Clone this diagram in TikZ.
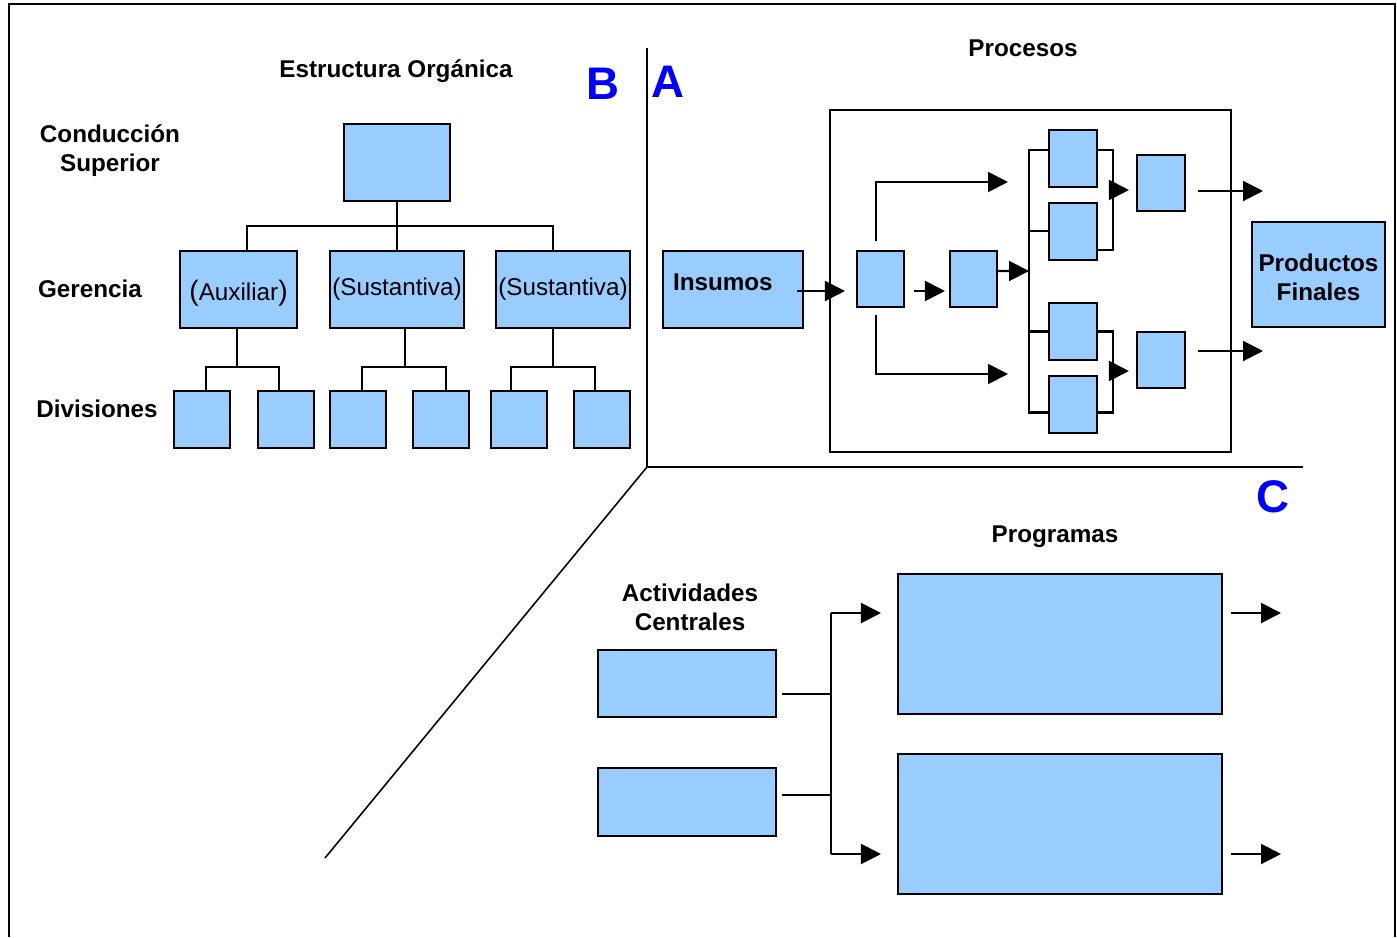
\documentclass[tikz,border=0pt]{standalone}
\usepackage{fontspec}
\setmainfont{Liberation Sans}
\usetikzlibrary{arrows.meta,calc}
\definecolor{celeste}{RGB}{153,204,255}
\definecolor{azul}{RGB}{0,0,255}

\begin{document}
\begin{tikzpicture}[x=0.02cm,y=-0.02cm,
		>={Triangle[length=0.4cm,width=0.4cm]},
		caja/.style={draw,fill=celeste,line width=1.2pt,inner sep=0pt},
		linea/.style={line width=1.15pt},
		flecha/.style={->,line width=1.15pt},
		rotulo/.style={font=\fontsize{13.8}{16.6}\selectfont\bfseries,align=center},
		texto/.style={font=\fontsize{13.8}{16.6}\selectfont},
		letra/.style={font=\fontsize{26}{30}\selectfont\bfseries,text=azul}]
			\useasboundingbox (0,0) rectangle (1397,937);
			\draw[linea] (9,937) -- (9,4) -- (1395,4) -- (1395,937);
			% ejes
			\draw[linea] (647,48) -- (647,467) -- (1303,467);
			\draw[line width=0.9pt] (647,467) -- (325,858);
			\node[letra] (lb) at (603,84) {B};
			\node[letra] (la) at (668,82) {A};
			\node[letra] (lc) at (1273,497) {C};
			% B: estructura organica
			\node[rotulo] (tit1) at (396,71) {Estructura Orgánica};
			\node[rotulo] (niv1) at (110,151) {Conducción\\Superior};
			\node[rotulo] (niv2) at (90,289) {Gerencia};
			\node[rotulo] (niv3) at (97,409) {Divisiones};
			\node[caja,minimum width=2.12cm,minimum height=1.54cm] (sup) at (397,162.5) {};
			\node[caja,texto,minimum width=2.34cm,minimum height=1.54cm] (aux) at (238.5,289.5) {\raisebox{-0.08cm}[\height][\depth]{{\fontsize{16}{16}\selectfont(}Auxiliar{\fontsize{16}{16}\selectfont)}}};
			\node[caja,texto,minimum width=2.68cm,minimum height=1.54cm] (sus1) at (397,289.5) {(Sustantiva)};
			\node[caja,texto,minimum width=2.68cm,minimum height=1.54cm] (sus2) at (563,289.5) {(Sustantiva)};
			\node[caja,minimum width=1.12cm,minimum height=1.14cm] (d1) at (202,419.5) {};
			\node[caja,minimum width=1.12cm,minimum height=1.14cm] (d2) at (286,419.5) {};
			\node[caja,minimum width=1.12cm,minimum height=1.14cm] (d3) at (358,419.5) {};
			\node[caja,minimum width=1.12cm,minimum height=1.14cm] (d4) at (441,419.5) {};
			\node[caja,minimum width=1.12cm,minimum height=1.14cm] (d5) at (519,419.5) {};
			\node[caja,minimum width=1.12cm,minimum height=1.14cm] (d6) at (602,419.5) {};
			\coordinate (bus) at (397,226);
			\draw[linea] (sup) -- (sus1);
			\draw[linea] ([xshift=0.17cm]aux.north) |- (bus) -| ([xshift=-0.2cm]sus2.north);
			\draw[linea] ([xshift=-0.03cm]aux.south) -- ++(0,38) coordinate (ga);
			\draw[linea] ([xshift=0.08cm]d1.north) |- (ga) -| ([xshift=-0.14cm]d2.north);
			\draw[linea] ([xshift=0.16cm]sus1.south) -- ++(0,38) coordinate (gb);
			\draw[linea] ([xshift=0.08cm]d3.north) |- (gb) -| ([xshift=0.1cm]d4.north);
			\draw[linea] ([xshift=-0.2cm]sus2.south) -- ++(0,38) coordinate (gc);
			\draw[linea] ([xshift=-0.16cm]d5.north) |- (gc) -| ([xshift=-0.14cm]d6.north);
			% A: procesos
			\node[rotulo] (tit2) at (1023,48) {Procesos};
			\draw[linea] (830,110) rectangle (1231,452);
			\node[caja,rotulo,minimum width=2.8cm,minimum height=1.54cm,text width=2.4cm,align=left] (ins) at (733,289.5) {\raisebox{0.14cm}[\height][\depth]{Insumos}};
			\node[caja,minimum width=0.94cm,minimum height=1.12cm] (p1) at (880.5,279) {};
			\node[caja,minimum width=0.94cm,minimum height=1.12cm] (p2) at (973.5,279) {};
			\node[caja,minimum width=0.96cm,minimum height=1.14cm] (c1) at (1073,158.5) {};
			\node[caja,minimum width=0.96cm,minimum height=1.14cm] (c2) at (1073,231.5) {};
			\node[caja,minimum width=0.96cm,minimum height=1.14cm] (c3) at (1073,331.5) {};
			\node[caja,minimum width=0.96cm,minimum height=1.14cm] (c4) at (1073,404.5) {};
			\node[caja,minimum width=0.96cm,minimum height=1.12cm] (r1) at (1161,183) {};
			\node[caja,minimum width=0.96cm,minimum height=1.12cm] (r2) at (1161,360) {};
			\node[caja,rotulo,minimum width=2.66cm,minimum height=2.1cm] (pf) at (1318.5,274.5) {\raisebox{-0.05cm}[\height][\depth]{Productos}\\\raisebox{-0.05cm}[\height][\depth]{Finales}};
			\draw[flecha,shorten <=-0.14cm,shorten >=0.22cm] ([yshift=-0.03cm]ins.east) -- ([yshift=-0.03cm]ins.east -| p1.west);
			\draw[flecha,shorten <=0.18cm,shorten >=0.08cm] ([yshift=-0.24cm]p1.east) -- ([yshift=-0.24cm]p2.west);
			\coordinate (sa) at (1008,182);
			\coordinate (sb) at (1008,374);
			\draw[flecha,shorten <=0.18cm] ([xshift=-0.09cm]p1.north) |- (sa);
			\draw[flecha,shorten <=0.14cm] ([xshift=-0.09cm]p1.south) |- (sb);
			\coordinate (barra) at (1029,271);
			\draw[flecha] ([yshift=0.16cm]p2.east) -- (barra);
			\draw[linea] ([yshift=0.17cm]c1.west) -| (barra) |- ([yshift=-0.16cm]c4.west);
			\draw[linea] ([yshift=0.01cm]c2.west) -- ([yshift=0.01cm]c2.west -| barra);
			\draw[linea] (c3.west) -- (c3.west -| barra);
			\coordinate (ca) at (1113,190);
			\coordinate (cb) at (1113,371);
			\draw[linea] ([yshift=0.17cm]c1.east) -| (ca) |- ([yshift=-0.37cm]c2.east);
			\draw[linea] (c3.east) -| (cb) |- ([yshift=-0.16cm]c4.east);
			\draw[flecha,shorten >=0.14cm] (ca) -- (ca -| r1.west);
			\draw[flecha,shorten >=0.14cm] (cb) -- (cb -| r2.west);
			\coordinate (sr1) at (1263,191);
			\coordinate (sr2) at (1263,351);
			\draw[flecha,shorten <=0.24cm] (sr1 -| r1.east) -- (sr1);
			\draw[flecha,shorten <=0.24cm] (sr2 -| r2.east) -- (sr2);
			% C: programas
			\node[rotulo] (tit3) at (1055,537) {Programas};
			\node[rotulo] (act) at (690,607) {Actividades\\Centrales};
			\node[caja,minimum width=6.48cm,minimum height=2.8cm] (pg1) at (1060,644) {};
			\node[caja,minimum width=6.48cm,minimum height=2.8cm] (pg2) at (1060,824) {};
			\node[caja,minimum width=3.56cm,minimum height=1.34cm] (ac1) at (687,683.5) {};
			\node[caja,minimum width=3.56cm,minimum height=1.36cm] (ac2) at (687,802) {};
			\coordinate (ba) at (831,613);
			\coordinate (bb) at (831,854);
			\draw[linea] (ba) -- (bb);
			\draw[flecha,shorten >=0.32cm] (ba) -- (ba -| pg1.west);
			\draw[flecha,shorten >=0.32cm] (bb) -- (bb -| pg2.west);
			\draw[linea] ([xshift=0.1cm,yshift=-0.21cm]ac1.east) coordinate (e1) -- (e1 -| ba);
			\draw[linea] ([xshift=0.1cm,yshift=0.14cm]ac2.east) coordinate (e2) -- (e2 -| ba);
			\coordinate (sp1) at (1281,613);
			\coordinate (sp2) at (1281,854);
			\draw[flecha,shorten <=0.16cm] (sp1 -| pg1.east) -- (sp1);
			\draw[flecha,shorten <=0.16cm] (sp2 -| pg2.east) -- (sp2);
\end{tikzpicture}
\end{document}
